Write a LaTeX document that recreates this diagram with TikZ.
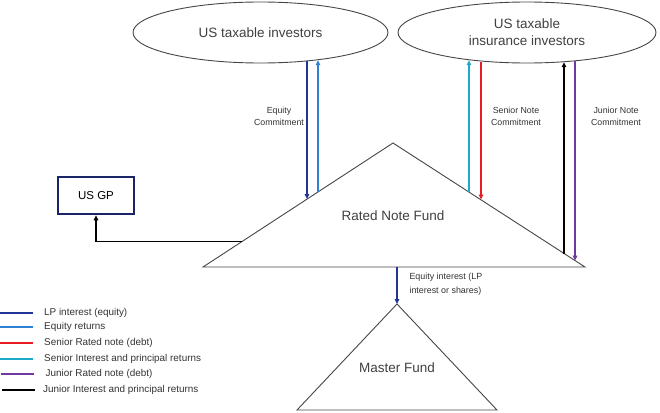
\documentclass[tikz,border=0pt]{standalone}
\usepackage{fontspec}
\setmainfont{Liberation Sans}
\usetikzlibrary{arrows.meta,shapes.geometric}
\definecolor{cnavy}{RGB}{32,52,150}
\definecolor{cblue}{RGB}{46,128,210}
\definecolor{cred}{RGB}{232,28,36}
\definecolor{ccyan}{RGB}{28,170,200}
\definecolor{cpurple}{RGB}{112,56,160}
\definecolor{cgp}{RGB}{26,36,102}
\definecolor{cshape}{RGB}{70,70,70}
\definecolor{ctext}{RGB}{64,64,64}
\definecolor{clabel}{RGB}{50,50,50}
\tikzset{
  investor/.style={ellipse, draw=cshape, line width=0.9pt, inner sep=0pt, text=ctext, font=\fontsize{13.5}{17}\selectfont, align=center},
  fundshape/.style={draw=cshape, line width=0.9pt},
  fundtext/.style={text=ctext, font=\fontsize{13.5}{16}\selectfont},
  flow/.style={line width=1.5pt, -{Triangle[length=5pt,width=4.5pt]}},
  lbl/.style={text=clabel, font=\fontsize{8.8}{12}\selectfont, align=center},
  legline/.style={line width=1.8pt},
  legtext/.style={text=clabel, font=\fontsize{9.9}{11}\selectfont, anchor=west, inner sep=0pt},
  gpbox/.style={draw=cgp, line width=2.5pt, minimum width=76pt, minimum height=37pt, inner sep=0pt, font=\fontsize{11.5}{13}\selectfont}
}
\begin{document}
\begin{tikzpicture}[x=1pt,y=-1pt]
\useasboundingbox (0,0) rectangle (660,412);
% investors
\node[investor, minimum width=255pt, minimum height=61pt] (inv1) at (260.5,32.5) {US taxable investors};
\node[investor, minimum width=258pt, minimum height=61pt] (inv2) at (527,32.5) {US taxable\\insurance investors};
% Rated Note Fund triangle
\draw[fundshape] (393,143) -- (585,267) -- (203,267) -- cycle;
\node[fundtext] (rnf) at (393,216) {Rated Note Fund};
% Master Fund triangle
\draw[fundshape] (397,304) -- (497,410) -- (297,410) -- cycle;
\node[fundtext] (mf) at (397,368) {Master Fund};
% US GP
\node[gpbox] (gp) at (96,195.5) {US GP};
% coordinates on borders
\coordinate (eqT) at (307,61.4);  \coordinate (eqB) at (307,199);
\coordinate (erB) at (318,192);   \coordinate (erT) at (318,60.2);
\coordinate (scB) at (469,192);   \coordinate (scT) at (469,60.2);
\coordinate (snT) at (481,61.5);  \coordinate (snB) at (481,199.5);
\coordinate (jrB) at (564,253.5); \coordinate (jrT) at (564,62.2);
\coordinate (jnT) at (575,61.3);  \coordinate (jnB) at (575,260.6);
\coordinate (gpS) at (242,241.7);
\coordinate (eiT) at (397,267);   \coordinate (eiB) at (397,304);
% flows
\draw[flow, cnavy] (eqT) -- (eqB);
\draw[flow, cblue] (erB) -- (erT);
\draw[flow, ccyan] (scB) -- (scT);
\draw[flow, cred] (snT) -- (snB);
\draw[flow, black] (jrB) -- (jrT);
\draw[flow, cpurple] (jnT) -- (jnB);
\draw[flow, black] (gpS) -| (gp.south);
\draw[flow, cnavy] (eiT) -- (eiB);
% labels
\node[lbl] (l1) at (279,116) {Equity\\Commitment};
\node[lbl] (l2) at (516,116) {Senior Note\\Commitment};
\node[lbl] (l3) at (616,116) {Junior Note\\Commitment};
\node[lbl, align=left, anchor=west, font=\fontsize{8.9}{13.4}\selectfont] (l4) at (406,284) {Equity interest (LP\\interest or shares)};
% legend
\draw[legline, cnavy] (0,312.7) -- (33,312.7);
\node[legtext] (g1) at (44,312.7) {LP interest (equity)};
\draw[legline, cblue] (0,327) -- (33,327);
\node[legtext] (g2) at (44,327) {Equity returns};
\draw[legline, cred] (0,342.7) -- (33,342.7);
\node[legtext] (g3) at (44,342.7) {Senior Rated note (debt)};
\draw[legline, ccyan] (0,358.7) -- (33,358.7);
\node[legtext] (g4) at (44,358.7) {Senior Interest and principal returns};
\draw[legline, cpurple] (1,374.3) -- (34,374.3);
\node[legtext] (g5) at (45.5,374.3) {Junior Rated note (debt)};
\draw[line width=2.4pt, black] (2,390) -- (35,390);
\node[legtext] (g6) at (43,390) {Junior Interest and principal returns};
\end{tikzpicture}
\end{document}
